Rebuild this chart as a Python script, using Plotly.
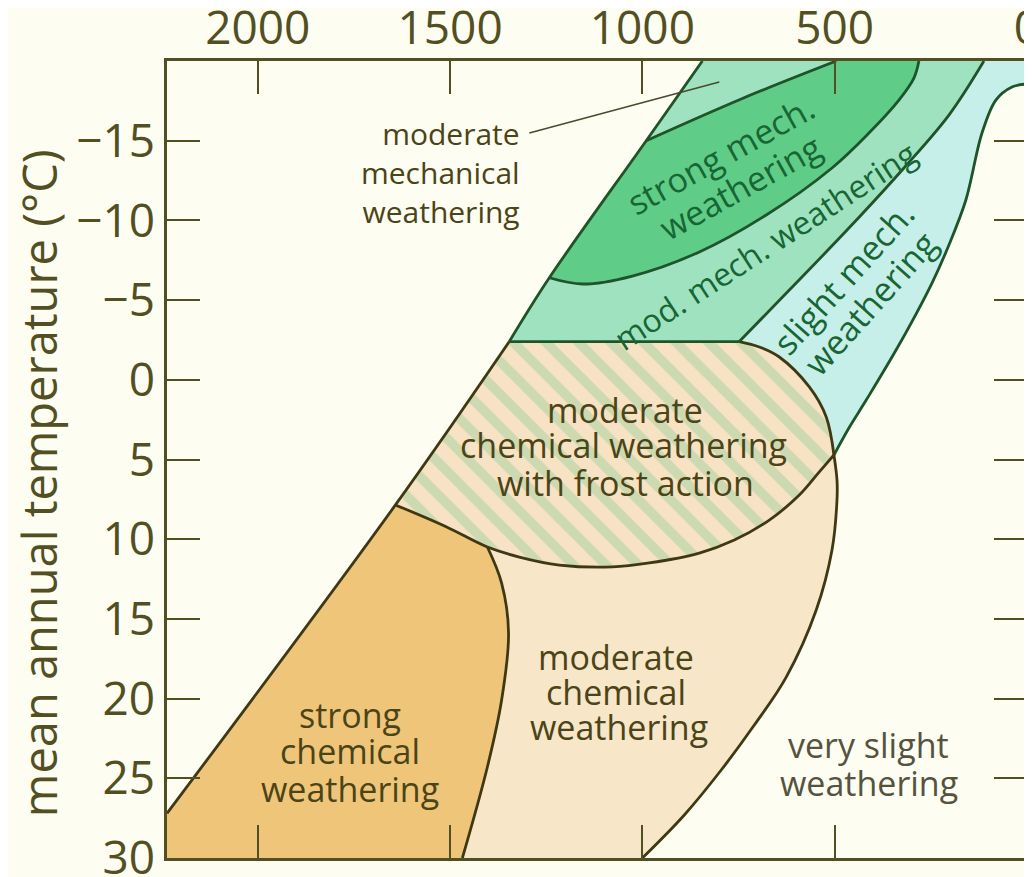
import plotly.graph_objects as go

# boundary curves of the weathering zones, rainfall (mm) vs mean annual temperature (°C)
diag_top_rain = [844, 990, 1242, 1346]
diag_top_temp = [-20, -15.0, -6.4, -2.4]
diag_low_rain = [1346, 1642, 2236]
diag_low_temp = [-2.4, 7.85, 27.2]
frost_top_rain = [1346, 748]
frost_top_temp = [-2.4, -2.4]
mod_slight_rain = [748, 618, 463, 320, 203, 112]
mod_slight_temp = [-2.4, -5.63, -9.52, -13.29, -16.61, -20]
strong_low_rain = [1242, 1156, 1026, 852, 678, 507, 411, 333, 294, 281]
strong_low_temp = [-6.4, -6.01, -6.51, -8.02, -10.34, -13.29, -15.48, -17.55, -18.93, -20]
strong_top_rain = [990, 743, 496]
strong_top_temp = [-15.0, -17.62, -20]
slight_edge_rain = [0, 39, 81, 117, 159, 203, 247, 333, 418, 463, 502]
slight_edge_temp = [-18.56, -18.37, -17.55, -15.48, -11.28, -8.46, -6.07, -2.18, 1.27, 3.02, 4.72]
frost_arc_rain = [748, 696, 644, 566, 522, 502]
frost_arc_temp = [-2.4, -2.06, -1.43, 0.45, 2.33, 4.72]
frost_low_rain = [502, 540, 592, 670, 761, 852, 982, 1078, 1216, 1320, 1403, 1509, 1642]
frost_low_temp = [4.72, 5.78, 7.23, 8.8, 10.05, 10.87, 11.49, 11.74, 11.62, 11.12, 10.49, 9.23, 7.85]
strong_chem_rain = [1403, 1366, 1348, 1366, 1403, 1468]
strong_chem_temp = [10.49, 12.75, 15.88, 20.09, 24.29, 30]
mod_chem_rain = [502, 494, 494, 507, 548, 626, 709, 795, 891, 1000]
mod_chem_temp = [4.72, 6.29, 7.54, 10.68, 14.44, 18.65, 21.66, 24.48, 27.3, 30]
pointer_rain = [1294, 800]
pointer_temp = [-15.48, -18.68]

rain_ticks = [0, 500, 1000, 1500, 2000]
temp_ticks = [-15, -10, -5, 0, 5, 10, 15, 20, 25, 30]

RAIN_MAX = 2236
FONT = "Open Sans"
GREEN_LINE = "#1f5328"
OLIVE_LINE = "#3f3913"
AXIS = "#524f22"
BG = "#fefdf1"

fig = go.Figure()


def zone(r, t, color, pattern=None):
    fig.add_trace(go.Scatter(x=r, y=t, mode="lines", fill="toself", fillcolor=color,
                             fillpattern=pattern, line=dict(width=0),
                             hoverinfo="skip", showlegend=False))


def edge(r, t, color, width=2.8):
    fig.add_trace(go.Scatter(x=r, y=t, mode="lines", line=dict(color=color, width=width, shape="spline"),
                             hoverinfo="skip", showlegend=False))


# zones
zone(diag_top_rain + frost_top_rain[1:] + mod_slight_rain[1:],
     diag_top_temp + frost_top_temp[1:] + mod_slight_temp[1:], "#9fe2c0")
zone(diag_top_rain[1:3] + strong_low_rain[1:] + strong_top_rain[::-1],
     diag_top_temp[1:3] + strong_low_temp[1:] + strong_top_temp[::-1], "#5fcd88")
zone(mod_slight_rain + [0] + slight_edge_rain + frost_arc_rain[::-1][1:],
     mod_slight_temp + [-20] + slight_edge_temp + frost_arc_temp[::-1][1:], "#c6efe9")
zone(frost_top_rain + frost_arc_rain[1:] + frost_low_rain[1:],
     frost_top_temp + frost_arc_temp[1:] + frost_low_temp[1:], "#f7e3c3",
     pattern=dict(shape="\\", bgcolor="#f7e3c3", fgcolor="#a3cfa0", size=23, solidity=0.42))
zone(diag_low_rain[1:] + [RAIN_MAX] + strong_chem_rain[::-1] + frost_low_rain[10:],
     diag_low_temp[1:] + [30] + strong_chem_temp[::-1] + frost_low_temp[10:], "#efc679")
zone(strong_chem_rain + mod_chem_rain[::-1] + frost_low_rain[1:10],
     strong_chem_temp + mod_chem_temp[::-1] + frost_low_temp[1:10], "#f8e6c9")

# boundaries
edge(diag_top_rain, diag_top_temp, GREEN_LINE)
edge(frost_top_rain, frost_top_temp, GREEN_LINE)
edge(mod_slight_rain, mod_slight_temp, GREEN_LINE)
edge(strong_low_rain, strong_low_temp, GREEN_LINE)
edge(strong_top_rain, strong_top_temp, GREEN_LINE)
edge(slight_edge_rain, slight_edge_temp, GREEN_LINE)
edge(diag_low_rain, diag_low_temp, OLIVE_LINE)
edge(frost_arc_rain, frost_arc_temp, OLIVE_LINE)
edge(frost_low_rain, frost_low_temp, OLIVE_LINE)
edge(strong_chem_rain, strong_chem_temp, OLIVE_LINE)
edge(mod_chem_rain, mod_chem_temp, OLIVE_LINE)
edge(pointer_rain, pointer_temp, "#4a4a30", width=1.6)

CHEM = "#4a4417"
MECH = "#176633"


def label(text, x, y, color=CHEM, size=34, angle=0, **kw):
    fig.add_annotation(x=x, y=y, text=text, showarrow=False, textangle=angle,
                       font=dict(family=FONT, size=size, color=color), **kw)


label("moderate<br>mechanical<br>weathering", 1312, -13.0, size=30, xanchor="right", align="right")
label("strong mech.", 798, -14.1, color=MECH, angle=-29)
label("weathering", 746, -12.1, color=MECH, angle=-29)
label("mod. mech. weathering", 681, -8.4, color=MECH, size=32, angle=-33)
label("slight mech.", 478, -6.4, color=MECH, angle=-48)
label("weathering", 408, -4.8, color=MECH, angle=-48)
label("moderate", 1044, 1.9)
label("chemical weathering", 1050, 4.1)
label("with frost action", 1044, 6.5)
label("strong", 1761, 21.0)
label("chemical", 1761, 23.3)
label("weathering", 1761, 25.7)
label("moderate", 1068, 17.4)
label("chemical", 1068, 19.6)
label("weathering", 1062, 21.8)
label("very slight", 411, 22.9, color="#55533e")
label("weathering", 411, 25.3, color="#55533e")

fig.add_annotation(xref="paper", yref="paper", x=-0.148, y=0.47, xanchor="center", yanchor="middle",
                   text="mean annual temperature (°C)", showarrow=False, textangle=-90,
                   font=dict(family=FONT, size=47, color=AXIS))

axis_style = dict(showline=True, linecolor=AXIS, linewidth=2.5, mirror="ticks", ticks="inside",
                  ticklen=33, tickwidth=2, tickcolor=AXIS, showgrid=False, zeroline=False,
                  automargin=False, ticklabeloverflow="allow",
                  tickfont=dict(family=FONT, size=46, color=AXIS))

fig.update_xaxes(range=[RAIN_MAX, 0], side="top", tickvals=rain_ticks, ticklabelstandoff=-4, **axis_style)
fig.update_yaxes(range=[30, -20], tickvals=temp_ticks, **axis_style)

# the page body adds an 8 px margin, so the figure is trimmed by that much
fig.update_layout(width=1024, height=869, margin=dict(l=159, r=5, t=53, b=19),
                  paper_bgcolor=BG, plot_bgcolor=BG)

fig.write_html("out.html")
